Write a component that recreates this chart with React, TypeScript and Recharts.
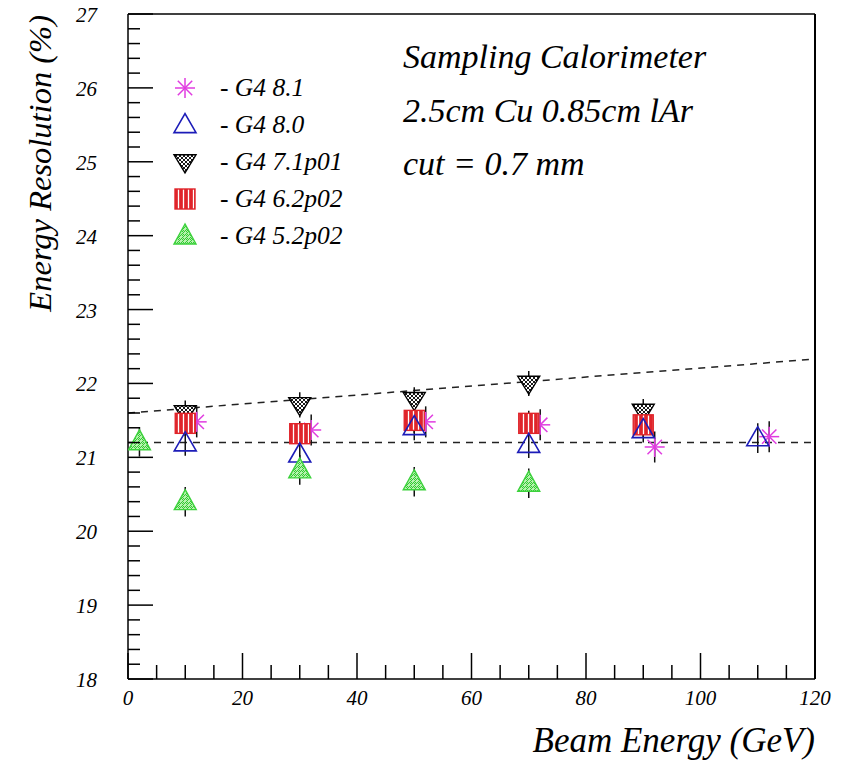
import React from 'react';
import { ComposedChart, Scatter, ErrorBar, XAxis, YAxis, ReferenceLine } from 'recharts';

// axis ticks (major ones get labels, minor ones are subdivisions)
const xMajorTicks = [0, 20, 40, 60, 80, 100, 120];
const yMajorTicks = [18, 19, 20, 21, 22, 23, 24, 25, 26, 27];
const xSubdivisions = 4;
const ySubdivisions = 5;

// G4 8.1
const g481Energy = [12, 32, 52, 72, 92, 112];
const g481Res = [21.48, 21.37, 21.48, 21.44, 21.14, 21.28];
const g481Err = [0.21, 0.21, 0.21, 0.21, 0.21, 0.21];
// G4 8.0
const g480Energy = [10, 30, 50, 70, 90, 110];
const g480Res = [21.19, 21.04, 21.41, 21.17, 21.37, 21.26];
const g480Err = [0.17, 0.18, 0.18, 0.18, 0.17, 0.2];
// G4 7.1p01
const g471Energy = [10, 30, 50, 70, 90];
const g471Res = [21.6, 21.71, 21.78, 22.0, 21.62];
const g471Err = [0.17, 0.17, 0.17, 0.17, 0.17];
// G4 6.2p02
const g462Energy = [10, 30, 50, 70, 90];
const g462Res = [21.46, 21.32, 21.5, 21.46, 21.44];
const g462Err = [0.17, 0.17, 0.17, 0.17, 0.17];
// G4 5.2p02
const g452Energy = [2, 10, 30, 50, 70];
const g452Res = [21.21, 20.4, 20.83, 20.67, 20.65];
const g452Err = [0.2, 0.2, 0.2, 0.2, 0.2];

// fitted lines
const flatFitRes = 21.2;
const slopeFitEnergy = [0, 120];
const slopeFitRes = [21.6, 22.33];

const legendNames = ['- G4 8.1', '- G4 8.0', '- G4 7.1p01', '- G4 6.2p02', '- G4 5.2p02'];
const noteLines = ['Sampling Calorimeter', '2.5cm Cu 0.85cm lAr', 'cut = 0.7 mm'];

const FONT = "'Liberation Serif', 'Times New Roman', 'DejaVu Serif', serif";

function subdivide(majors: number[], parts: number) {
  const out: number[] = [];
  for (let i = 0; i < majors.length - 1; i++) {
    const step = (majors[i + 1] - majors[i]) / parts;
    for (let k = 0; k < parts; k++) out.push(+(majors[i] + k * step).toFixed(4));
  }
  out.push(majors[majors.length - 1]);
  return out;
}
const xTicks = subdivide(xMajorTicks, xSubdivisions);
const yTicks = subdivide(yMajorTicks, ySubdivisions);

const toPoints = (xs: number[], ys: number[], es: number[]) =>
  xs.map((x, i) => ({ x, y: ys[i], err: es[i] }));

const g481Data = toPoints(g481Energy, g481Res, g481Err);
const g480Data = toPoints(g480Energy, g480Res, g480Err);
const g471Data = toPoints(g471Energy, g471Res, g471Err);
const g462Data = toPoints(g462Energy, g462Res, g462Err);
const g452Data = toPoints(g452Energy, g452Res, g452Err);

const isMajor = (v: number, majors: number[]) => majors.some((m) => Math.abs(m - v) < 1e-6);

const textStyle = { fontFamily: FONT, fontStyle: 'italic' as const };

const XTick = (props: any) => {
  const { x, y, payload } = props;
  const major = isMajor(payload.value, xMajorTicks);
  return (
    <g>
      <line x1={x} x2={x} y1={y} y2={y - (major ? 26 : 14)} stroke="#000" strokeWidth={1.5} />
      {major && (
        <text x={x} y={y + 26} textAnchor="middle" fontSize={21} style={textStyle} fill="#000">
          {payload.value}
        </text>
      )}
    </g>
  );
};

const YTick = (props: any) => {
  const { x, y, payload } = props;
  const major = isMajor(payload.value, yMajorTicks);
  return (
    <g>
      <line x1={x} x2={x + (major ? 25 : 12)} y1={y} y2={y} stroke="#000" strokeWidth={1.5} />
      {major && (
        <text x={x - 31} y={y + 8} textAnchor="end" fontSize={21} style={textStyle} fill="#000">
          {payload.value}
        </text>
      )}
    </g>
  );
};

// ---- markers ----
const Asterisk = ({ cx, cy, r = 10 }: any) => {
  const d = r * 0.72;
  return (
    <g stroke="#e03ce0" strokeWidth={1.5}>
      <line x1={cx - r} x2={cx + r} y1={cy} y2={cy} />
      <line x1={cx} x2={cx} y1={cy - r} y2={cy + r} />
      <line x1={cx - d} x2={cx + d} y1={cy - d} y2={cy + d} />
      <line x1={cx - d} x2={cx + d} y1={cy + d} y2={cy - d} />
    </g>
  );
};

const OpenTriangle = ({ cx, cy, w = 22, h = 19 }: any) => (
  <polygon
    points={`${cx},${cy - h * 0.6} ${cx - w / 2},${cy + h * 0.4} ${cx + w / 2},${cy + h * 0.4}`}
    fill="none"
    stroke="#1c1cb8"
    strokeWidth={1.6}
  />
);

const HatchedDown = ({ cx, cy, w = 22, h = 18 }: any) => (
  <polygon
    points={`${cx - w / 2},${cy - h * 0.4} ${cx + w / 2},${cy - h * 0.4} ${cx},${cy + h * 0.6}`}
    fill="url(#hatchBlack)"
    stroke="#000"
    strokeWidth={1.4}
  />
);

const StripedSquare = ({ cx, cy, s = 20 }: any) => (
  <rect x={cx - s / 2} y={cy - s / 2} width={s} height={s} fill="url(#stripeRed)" stroke="#e0242a" strokeWidth={1.4} />
);

const HatchedUp = ({ cx, cy, w = 22, h = 20 }: any) => (
  <polygon
    points={`${cx},${cy - h * 0.6} ${cx - w / 2},${cy + h * 0.4} ${cx + w / 2},${cy + h * 0.4}`}
    fill="url(#hatchGreen)"
    stroke="#3cd23c"
    strokeWidth={1.4}
  />
);

const legendMarks = [Asterisk, OpenTriangle, HatchedDown, StripedSquare, HatchedUp];

const Patterns = () => (
  <svg width={0} height={0} style={{ position: 'absolute' }}>
    <defs>
      <pattern id="hatchBlack" patternUnits="userSpaceOnUse" width={4} height={4}>
        <rect width={4} height={4} fill="#fff" />
        <path d="M0,0 L4,4 M4,0 L0,4" stroke="#000" strokeWidth={0.9} />
      </pattern>
      <pattern id="stripeRed" patternUnits="userSpaceOnUse" width={5} height={5}>
        <rect width={5} height={5} fill="#e0242a" />
        <line x1={3.5} x2={3.5} y1={0} y2={5} stroke="#fff" strokeWidth={1.3} />
      </pattern>
      <pattern id="hatchGreen" patternUnits="userSpaceOnUse" width={4} height={4}>
        <rect width={4} height={4} fill="#b6f2ae" />
        <path d="M0,4 L4,0 M2,4 L4,2" stroke="#34c834" strokeWidth={1} />
      </pattern>
    </defs>
  </svg>
);

const errProps = { dataKey: 'err', direction: 'y' as const, width: 0, stroke: '#111', strokeWidth: 1.5 };

export default function App() {
  return (
    <div style={{ position: 'absolute', left: 0, top: 0, width: 844, height: 766, background: '#fff' }}>
      <Patterns />
      <ComposedChart width={844} height={766} margin={{ top: 14, right: 29, bottom: 0, left: 0 }}>
        <XAxis
          type="number"
          dataKey="x"
          domain={[0, 120]}
          ticks={xTicks}
          interval={0}
          tick={<XTick />}
          tickLine={false}
          tickSize={0}
          tickMargin={0}
          height={87}
          axisLine={{ stroke: '#000', strokeWidth: 1.5 }}
          allowDataOverflow
        />
        <YAxis
          type="number"
          domain={[18, 27]}
          ticks={yTicks}
          interval={0}
          tick={<YTick />}
          tickLine={false}
          tickSize={0}
          tickMargin={0}
          width={128}
          axisLine={{ stroke: '#000', strokeWidth: 1.5 }}
          allowDataOverflow
        />
        <ReferenceLine y={27} stroke="#000" strokeWidth={1.5} />
        <ReferenceLine x={120} stroke="#000" strokeWidth={2} />
        <ReferenceLine y={flatFitRes} stroke="#222" strokeWidth={1.5} strokeDasharray="7 6" />
        <ReferenceLine
          segment={[
            { x: slopeFitEnergy[0], y: slopeFitRes[0] },
            { x: slopeFitEnergy[1], y: slopeFitRes[1] },
          ]}
          stroke="#222"
          strokeWidth={1.5}
          strokeDasharray="7 6"
        />
        <Scatter data={g481Data} dataKey="y" isAnimationActive={false} shape={(p: any) => <Asterisk cx={p.cx} cy={p.cy} />}>
          <ErrorBar {...errProps} />
        </Scatter>
        <Scatter data={g471Data} dataKey="y" isAnimationActive={false} shape={(p: any) => <HatchedDown cx={p.cx} cy={p.cy} />}>
          <ErrorBar {...errProps} />
        </Scatter>
        <Scatter data={g462Data} dataKey="y" isAnimationActive={false} shape={(p: any) => <StripedSquare cx={p.cx} cy={p.cy} />}>
          <ErrorBar {...errProps} />
        </Scatter>
        <Scatter data={g480Data} dataKey="y" isAnimationActive={false} shape={(p: any) => <OpenTriangle cx={p.cx} cy={p.cy} />}>
          <ErrorBar {...errProps} />
        </Scatter>
        <Scatter data={g452Data} dataKey="y" isAnimationActive={false} shape={(p: any) => <HatchedUp cx={p.cx} cy={p.cy} />}>
          <ErrorBar {...errProps} />
        </Scatter>
      </ComposedChart>

      {/* legend, note and axis titles */}
      <svg width={844} height={766} style={{ position: 'absolute', left: 0, top: 0, pointerEvents: 'none' }}>
        <g style={textStyle} fill="#000">
          {legendNames.map((name, i) => {
            const Mark = legendMarks[i];
            const cy = 88 + i * 37;
            return (
              <g key={name}>
                <Mark cx={185} cy={cy} />
                <text x={220} y={cy + 8} fontSize={25.5}>
                  {name}
                </text>
              </g>
            );
          })}
          {noteLines.map((line, i) => (
            <text key={line} x={403} y={68 + i * 53.5} fontSize={34}>
              {line}
            </text>
          ))}
          <text x={815} y={752} fontSize={35} textAnchor="end">
            Beam Energy (GeV)
          </text>
          <text x={51} y={15} fontSize={32.5} textAnchor="end" transform="rotate(-90 51 15)">
            Energy Resolution (%)
          </text>
        </g>
      </svg>
    </div>
  );
}
